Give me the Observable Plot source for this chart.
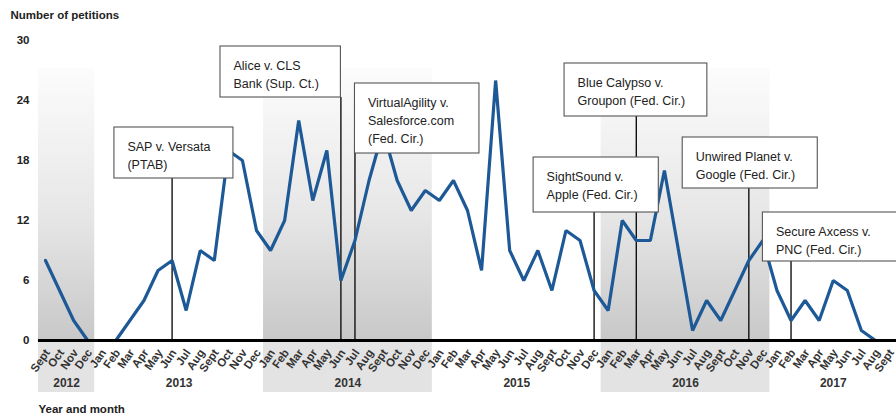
<!DOCTYPE html>
<html><head><meta charset="utf-8">
<script src="https://cdn.jsdelivr.net/npm/d3@7"></script>
<script src="https://cdn.jsdelivr.net/npm/@observablehq/plot@0.6"></script>
<style>
body{margin:0;background:#fff;}
#chart svg{display:block;}
</style></head><body><div id="chart"></div>
<script>
// ---- data ----
const monthNames = ["Jan","Feb","Mar","Apr","May","Jun","Jul","Aug","Sept","Oct","Nov","Dec"];
const firstYear = 2012, firstMonth = 8; // Sept 2012
const petitions = [
  8, 5, 2, 0,                                   // 2012 Sept-Dec
  0, 0, 2, 4, 7, 8, 3, 9, 8, 19, 18, 11,        // 2013
  9, 12, 22, 14, 19, 6, 10, 16, 21, 16, 13, 15, // 2014
  14, 16, 13, 7, 26, 9, 6, 9, 5, 11, 10, 5,     // 2015
  3, 12, 10, 10, 17, 9, 1, 4, 2, 5, 8, 10,      // 2016
  5, 2, 4, 2, 6, 5, 1, 0, 0                     // 2017 Jan-Sept
];
const years = [2012, 2013, 2014, 2015, 2016, 2017];
const shadedYears = [2012, 2014, 2016];
const yTicks = [0, 6, 12, 18, 24, 30];
const eventCases = ["SAP v. Versata\n(PTAB)", "Alice v. CLS\nBank (Sup. Ct.)", "VirtualAgility v.\nSalesforce.com\n(Fed. Cir.)", "SightSound v.\nApple (Fed. Cir.)", "Blue Calypso v.\nGroupon (Fed. Cir.)", "Unwired Planet v.\nGoogle (Fed. Cir.)", "Secure Axcess v.\nPNC (Fed. Cir.)"];
const eventYears = [2013, 2014, 2014, 2015, 2016, 2016, 2017];
const eventMonths = ["Jun", "Jun", "Jul", "Dec", "Mar", "Nov", "Feb"];

// ---- annotation box layout (month-index / petition units) ----
const boxLayout = [
  {x1: 4.9,  x2: 13.36, top: 21.3, bottom: 16.2},
  {x1: 12.44,x2: 21.0,  top: 29.4, bottom: 24.3},
  {x1: 22.0, x2: 30.85, top: 25.7, bottom: 18.7},
  {x1: 34.7, x2: 43.6,  top: 18.3, bottom: 12.8},
  {x1: 36.9, x2: 47.05, top: 27.7, bottom: 22.4},
  {x1: 45.3, x2: 54.9,  top: 20.3, bottom: 15.2},
  {x1: 51.0, x2: 61.5,  top: 12.8, bottom: 7.9}
];

// ---- derived tables ----
const idxOf = (y, m) => (y - firstYear) * 12 + monthNames.indexOf(m) - firstMonth;
const rows = petitions.map((v, i) => ({
  i, value: v,
  year: firstYear + Math.floor((firstMonth + i) / 12),
  month: monthNames[(firstMonth + i) % 12]
}));
const yearRows = years.map(y => {
  const r = rows.filter(d => d.year === y);
  return {year: y, first: r[0].i, last: r[r.length - 1].i, mid: (r[0].i + r[r.length - 1].i) / 2};
});
const shadeRows = yearRows.filter(d => shadedYears.includes(d.year));
const events = eventCases.map((c, k) => ({
  label: c, i: idxOf(eventYears[k], eventMonths[k]), ...boxLayout[k]
}));

const blue = "#1d5996";
const font = "'Liberation Sans', Arial, sans-serif";

const chart = Plot.plot({
  width: 896, height: 417,
  marginLeft: 45, marginRight: 7, marginTop: 40, marginBottom: 77,
  style: {fontFamily: font, fontSize: "11.5px", color: "#222", background: "#fff"},
  x: {type: "linear", domain: [0, rows.length - 1], axis: null},
  y: {domain: [0, 30], axis: null},
  marks: [
    // shaded year bands
    Plot.rect(shadeRows, {x1: d => d.first - 0.5, x2: d => d.last + 0.5, y1: 0, y2: 27.2, fill: "url(#yearShade)"}),
    Plot.rect(shadeRows, {x1: d => d.first - 0.5, x2: d => d.last + 0.5, y1: 0, y2: 0, insetBottom: -52, fill: "#e3e3e3"}),
    // y axis labels
    Plot.axisY(yTicks, {tickSize: 0, tickPadding: 16, fontWeight: "bold", fontSize: 11.5, fill: "#222"}),
    // annotation leader lines
    Plot.ruleX(events, {x: "i", y1: 0, y2: "bottom", stroke: "#111", strokeWidth: 1.4}),
    // data line
    Plot.line(rows, {x: "i", y: "value", stroke: blue, strokeWidth: 3.2, strokeLinejoin: "miter"}),
    // baseline
    Plot.ruleY([0], {x1: -0.5, x2: rows.length - 0.5, stroke: "#000", strokeWidth: 3}),
    // annotation boxes
    Plot.rect(events, {x1: "x1", x2: "x2", y1: "bottom", y2: "top", fill: "#fff", stroke: "#555", strokeWidth: 1.1}),
    Plot.text(events, {x: "x1", y: "top", text: "label", textAnchor: "start", lineAnchor: "top", dx: 13, dy: 11, fontSize: 12.5, lineHeight: 1.42, fill: "#222", fontWeight: "normal"}),
    // month labels
    Plot.text(rows, {x: "i", y: 0, text: "month", rotate: -55, textAnchor: "end", lineAnchor: "middle", dx: 2, dy: 10, fontWeight: "bold", fontSize: 11.5, fill: "#333"}),
    // year labels
    Plot.text(yearRows, {x: "mid", y: 0, text: d => String(d.year), dy: 43, fontWeight: "bold", fontSize: 12, fill: "#333"}),
    // titles
    Plot.text(["Number of petitions"], {frameAnchor: "top-left", dx: -35, dy: -25, textAnchor: "start", lineAnchor: "middle", fontWeight: "bold", fontSize: 11.5, fill: "#222"}),
    Plot.text(["Year and month"], {frameAnchor: "bottom-left", dx: -7, dy: 69, textAnchor: "start", lineAnchor: "middle", fontWeight: "bold", fontSize: 11.5, fill: "#222"})
  ]
});

// gradient definition for the shaded years
const defs = d3.create("svg:defs");
const g = defs.append("linearGradient").attr("id", "yearShade").attr("x1", 0).attr("y1", 0).attr("x2", 0).attr("y2", 1);
g.append("stop").attr("offset", "0%").attr("stop-color", "#fcfcfc");
g.append("stop").attr("offset", "55%").attr("stop-color", "#e6e6e6");
g.append("stop").attr("offset", "100%").attr("stop-color", "#c8c8c8");
chart.insertBefore(defs.node(), chart.firstChild);

document.getElementById("chart").appendChild(chart);
</script></body></html>
